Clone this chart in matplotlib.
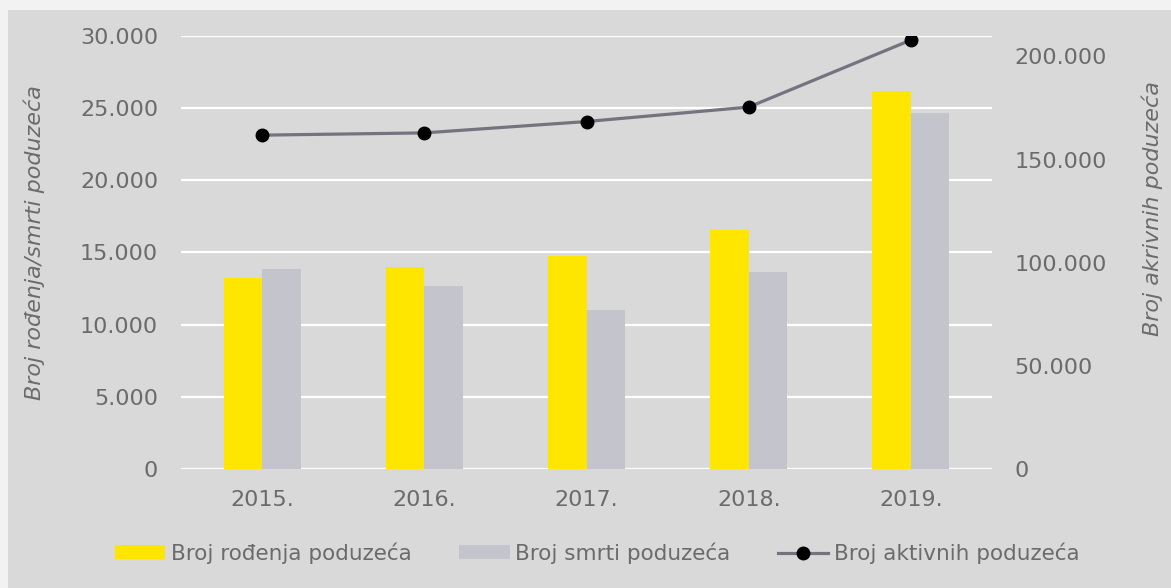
import matplotlib
matplotlib.use("Agg")
import matplotlib.pyplot as plt
from matplotlib.patches import Rectangle
import numpy as np

years = ["2015.", "2016.", "2017.", "2018.", "2019."]
births = [13210, 14010, 14750, 16570, 26160]
deaths = [13850, 12670, 11010, 13660, 24650]
active = [161800, 162900, 168400, 175400, 207900]

left_ticks = [0, 5000, 10000, 15000, 20000, 25000, 30000]
left_labels = ["0", "5.000", "10.000", "15.000", "20.000", "25.000", "30.000"]
right_ticks = [0, 50000, 100000, 150000, 200000]
right_labels = ["0", "50.000", "100.000", "150.000", "200.000"]

YELLOW = "#FFE600"
GREY = "#C4C4CD"
LINE = "#747480"
TXT = "#6B6B6B"
BG = "#D9D9D9"

plt.rcParams['font.family'] = ['DejaVu Sans']

W, H = 1171, 588
fig = plt.figure(figsize=(W / 100, H / 100), dpi=100)
fig.patch.set_facecolor("#F2F2F2")
fig.patches.append(Rectangle((8 / W, 0), 1 - 8 / W, 1 - 10 / H, transform=fig.transFigure,
                             facecolor=BG, edgecolor="none", zorder=-10))

ax = fig.add_axes([181 / W, 1 - 469 / H, (992 - 181) / W, (469 - 35.7) / H])
ax.set_facecolor("none")
x = np.arange(len(years))
bw = 0.237
ax.bar(x - bw / 2, births, bw, color=YELLOW, label="Broj rođenja poduzeća", zorder=3)
ax.bar(x + bw / 2, deaths, bw, color=GREY, label="Broj smrti poduzeća", zorder=3)
ax.set_xlim(-0.5, len(years) - 0.5)
ax.set_ylim(0, 30000)
ax.set_yticks(left_ticks)
ax.set_yticklabels(left_labels)
ax.set_xticks(x)
ax.set_xticklabels(years)
ax.grid(axis="y", color="white", linewidth=1.6, zorder=1)
ax.set_axisbelow(True)
for s in ax.spines.values():
    s.set_visible(False)
ax.tick_params(axis="both", length=0, labelsize=16, labelcolor=TXT)
ax.tick_params(axis="y", pad=16.5)
ax.tick_params(axis="x", pad=15)
ax.set_ylabel("Broj rođenja/smrti poduzeća", fontsize=16, color=TXT, style="italic")
ax.yaxis.set_label_coords(-0.168, 0.523)

ax2 = ax.twinx()
ax2.plot(x, active, color=LINE, linewidth=2.3, marker="o", markersize=9,
         markerfacecolor="black", markeredgecolor="black", label="Broj aktivnih poduzeća", zorder=5)
ax2.set_ylim(0, 210000)
ax2.set_yticks(right_ticks)
ax2.set_yticklabels(right_labels)
for s in ax2.spines.values():
    s.set_visible(False)
ax2.tick_params(axis="y", length=0, labelsize=16, labelcolor=TXT, pad=16)
ax2.set_ylabel("Broj akrivnih poduzeća", fontsize=16, color=TXT, style="italic")
ax2.yaxis.set_label_coords(1.184, 0.601)

h1, l1 = ax.get_legend_handles_labels()
h2, l2 = ax2.get_legend_handles_labels()
leg = fig.legend(h1 + h2, l1 + l2, loc="center", bbox_to_anchor=(597 / W, 1 - 553 / H),
                 ncol=3, frameon=False, fontsize=15.5, handlelength=2.35, handleheight=0.6,
                 columnspacing=2.2, handletextpad=0.25)
for t in leg.get_texts():
    t.set_color(TXT)

fig.savefig("out.png", dpi=100, facecolor=fig.get_facecolor())
